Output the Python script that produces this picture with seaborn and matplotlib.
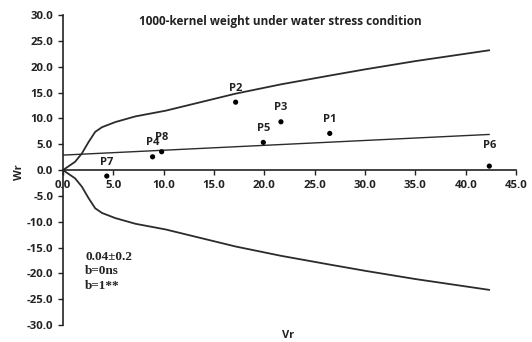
import matplotlib
matplotlib.use("Agg")
import matplotlib.pyplot as plt
import seaborn as sns
import pandas as pd

# Parents: variance (Vr) and covariance (Wr) of their arrays
parents = ["P1", "P2", "P3", "P4", "P5", "P6", "P7", "P8"]
vr = [26.5, 17.15, 21.65, 8.9, 19.9, 42.35, 4.35, 9.8]
wr = [7.1, 13.15, 9.35, 2.57, 5.36, 0.77, -1.16, 3.55]

# Limiting parabola (upper branch), as plotted
parab_vr = [0.0, 1.2, 1.87, 2.53, 3.2, 3.87, 5.2, 7.2, 10.2, 17.15, 21.65,
            26.5, 30.0, 35.0, 42.35]
parab_wr = [0.0, 1.6, 3.2, 5.4, 7.4, 8.3, 9.3, 10.4, 11.5, 14.8, 16.6,
            18.3, 19.5, 21.1, 23.2]

# Wr on Vr regression line
reg_vr = [0.0, 42.35]
reg_wr = [2.9, 6.9]

title = "1000-kernel weight under water stress condition"
stats_text = "0.04\u00b10.2\nb=0ns\nb=1**"

sns.set_theme(style="ticks")
plt.rcParams["font.family"] = ["Open Sans", "DejaVu Sans"]
plt.rcParams["font.weight"] = "bold"

fig = plt.figure(figsize=(5.32, 3.42), dpi=100)
ax = fig.add_axes([0.1184, 0.0497, 0.8515, 0.906])

pts = pd.DataFrame({"Vr": vr, "Wr": wr, "parent": parents})
upper = pd.DataFrame({"Vr": parab_vr, "Wr": parab_wr})
lower = pd.DataFrame({"Vr": parab_vr, "Wr": [-w for w in parab_wr]})
reg = pd.DataFrame({"Vr": reg_vr, "Wr": reg_wr})

line_kw = dict(color="#2b2b2b", linewidth=1.3, sort=False, ax=ax)
sns.lineplot(data=upper, x="Vr", y="Wr", **line_kw)
sns.lineplot(data=lower, x="Vr", y="Wr", **line_kw)
sns.lineplot(data=reg, x="Vr", y="Wr", color="#2b2b2b", linewidth=1.0,
             sort=False, ax=ax)
sns.scatterplot(data=pts, x="Vr", y="Wr", color="black", s=14,
                edgecolor="none", ax=ax, zorder=5)

label_offsets = {"P6": 15}
for name, x, y in zip(parents, vr, wr):
    dy = label_offsets.get(name, 10)
    ax.annotate(name, (x, y), xytext=(0, dy), textcoords="offset points",
                ha="center", va="center", fontsize=8, fontweight="bold",
                color="#222222")

ax.set_xlim(0, 45)
ax.set_ylim(-30, 30)
ax.set_xticks([i * 5.0 for i in range(10)])
ax.set_yticks([-30 + i * 5.0 for i in range(13)])
ax.set_xticklabels([f"{t:.1f}" for t in ax.get_xticks()])
ax.set_yticklabels([f"{t:.1f}" for t in ax.get_yticks()])

ax.spines["left"].set_position(("data", 0))
ax.spines["bottom"].set_position(("data", 0))
ax.spines["right"].set_visible(False)
ax.spines["top"].set_visible(False)
for s in ("left", "bottom"):
    ax.spines[s].set_color("#222222")
    ax.spines[s].set_linewidth(1.2)

ax.tick_params(axis="both", direction="out", length=3.6, width=1.0,
               colors="#222222", labelsize=8.2, pad=3.5)
for lab in ax.get_xticklabels() + ax.get_yticklabels():
    lab.set_fontweight("bold")

ax.set_xlabel("")
ax.set_ylabel("")
fig.text(20 / 532, 1 - 172 / 342, "Wr", rotation=90, ha="center", va="center",
         fontsize=8, fontweight="bold", color="#222222")
fig.text(288 / 532, 1 - 335 / 342, "Vr", ha="center", va="center",
         fontsize=8, fontweight="bold", color="#222222")
fig.text(280 / 532, 1 - 22 / 342, title, ha="center", va="center",
         fontsize=8.5, fontweight="bold", color="#222222")

ax.text(2.2, -15.7, stats_text, ha="left", va="top", fontsize=9.5,
        fontweight="bold", family=["Liberation Serif"], linespacing=1.25,
        color="#222222")

fig.savefig("out.png", dpi=100)
